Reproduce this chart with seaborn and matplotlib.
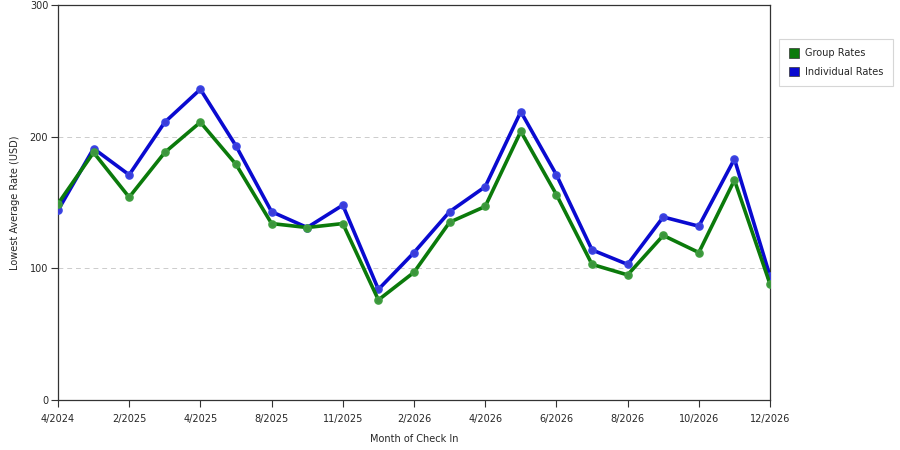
import numpy as np
import pandas as pd
import seaborn as sns
import matplotlib.pyplot as plt
from matplotlib.colors import to_rgb
from matplotlib.patches import Patch

# values, one per check-in month
group_rates = [149, 188, 154, 188, 211, 179, 134, 131, 134, 76, 97,
               135, 147, 204, 156, 103, 95, 125, 112, 167, 88]
individual_rates = [144, 191, 171, 211, 236, 193, 143, 131, 148, 84, 112,
                    143, 162, 219, 171, 114, 103, 139, 132, 183, 94]
# only every second month is labelled on the axis
tick_labels = ['4/2024', '2/2025', '4/2025', '8/2025', '11/2025', '2/2026',
               '4/2026', '6/2026', '8/2026', '10/2026', '12/2026']
series_names = ['Group Rates', 'Individual Rates']
colors = {'Group Rates': '#0b7a0b', 'Individual Rates': '#0a0ad0'}

n = len(group_rates)
df = pd.DataFrame({
    'idx': list(range(n)) * 2,
    'rate': group_rates + individual_rates,
    'series': [series_names[0]] * n + [series_names[1]] * n,
})

sns.set_style('white')
plt.rcParams['font.family'] = ['DejaVu Sans']

fig = plt.figure(figsize=(9, 4.5), dpi=100)
ax = fig.add_axes([0.0644, 0.1111, 0.7912, 0.8778])

sns.lineplot(data=df, x='idx', y='rate', hue='series', palette=colors,
             hue_order=series_names[::-1], linewidth=2.6, marker='o',
             markersize=5, markeredgewidth=1.2, legend=False, ax=ax,
             zorder=3)
for line in ax.lines:
    c = np.array(to_rgb(line.get_color()))
    line.set_markeredgecolor(tuple(c * 0.55 + 0.45 * np.array([0.5, 0.8, 0.5])
                                   if c[1] > c[2] else
                                   c * 0.55 + 0.45 * np.array([0.45, 0.55, 1.0])))
    line.set_markerfacecolor(tuple(c * 0.8 + 0.2))

ax.set_xlim(0, n - 1)
ax.set_ylim(0, 300)
ax.set_xticks(np.arange(0, n, 2))
ax.set_xticklabels(tick_labels, fontsize=7)
ax.set_yticks([0, 100, 200, 300])
ax.set_yticklabels(['0', '100', '200', '300'], fontsize=7)
ax.tick_params(axis='x', direction='out', length=5, width=0.8,
               color='#333333', pad=5, bottom=True)
ax.tick_params(axis='y', direction='out', length=5, width=0.8,
               color='#333333', pad=2, left=True)
for s in ax.spines.values():
    s.set_color('#333333')
    s.set_linewidth(0.9)

for yv in [100, 200]:
    ax.axhline(yv, color='#cccccc', linestyle=(0, (5, 4)), linewidth=0.7,
               zorder=1)

ax.set_xlabel('Month of Check In', fontsize=7, labelpad=7)
ax.set_ylabel('Lowest Average Rate (USD)', fontsize=7, labelpad=7)

handles = [Patch(facecolor=colors[s], edgecolor='#333333', linewidth=0.5,
                 label=s) for s in series_names]
leg = fig.legend(handles=handles, loc='upper left',
                 bbox_to_anchor=(0.866, 0.913), fontsize=7, frameon=True,
                 fancybox=False, edgecolor='#cccccc', handlelength=1.1,
                 handleheight=1.1, borderpad=0.95, labelspacing=0.85,
                 handletextpad=0.6, borderaxespad=0)
leg.get_frame().set_linewidth(0.8)

fig.savefig('out.png', dpi=100)
